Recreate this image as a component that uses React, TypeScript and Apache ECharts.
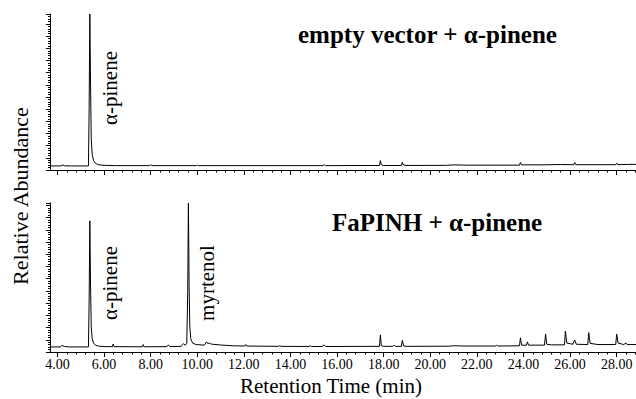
import React, { useEffect, useRef } from "react";
import * as echarts from "echarts";

// Retention time axis (minutes)
const X_MIN = 3.68;
const X_MAX = 28.83;
const xMajorTicks = [4, 6, 8, 10, 12, 14, 16, 18, 20, 22, 24, 26, 28];

// Texts
const topTitle = "empty vector + α-pinene";
const bottomTitle = "FaPINH + α-pinene";
const yTitle = "Relative Abundance";
const xTitle = "Retention Time (min)";
const peakLabelTop = ["α-pinene"];
const peakLabelsBottom = ["α-pinene", "myrtenol"];

// Chromatogram: empty vector + α-pinene  [time (min), relative abundance %]
const topTrace: [number, number][] = [
  [3.68, 2.6], [4.15, 2.6], [4.22, 3.2], [4.3, 2.7], [4.6, 2.6], [5.33, 2.6],
  [5.36, 40], [5.39, 100], [5.42, 55], [5.45, 20], [5.49, 10], [5.55, 6],
  [5.63, 4.3], [5.75, 3.4], [6.0, 3.0], [6.5, 2.8], [7.96, 2.8], [8.0, 3.4],
  [8.05, 2.8], [9.96, 2.8], [10.0, 3.2], [10.05, 2.8], [12.0, 2.8], [13.5, 2.8],
  [15.41, 2.8], [15.45, 3.5], [15.5, 2.8], [17.82, 2.9], [17.86, 6.0], [17.9, 3.3],
  [18.0, 2.9], [18.76, 2.9], [18.8, 4.9], [18.85, 3.2], [19.0, 2.9], [20.7, 3.0],
  [21.0, 3.3], [21.6, 3.1], [23.83, 3.1], [23.87, 4.8], [23.92, 3.3], [24.8, 3.3],
  [25.6, 3.5], [26.16, 3.4], [26.2, 4.8], [26.25, 3.4], [27.96, 3.4], [28.0, 4.4],
  [28.05, 3.4], [28.5, 3.6], [28.83, 3.6],
];

// Chromatogram: FaPINH + α-pinene
const bottomTrace: [number, number][] = [
  [3.68, 3.4], [4.12, 3.4], [4.2, 4.4], [4.3, 3.7], [4.5, 3.4], [5.33, 3.4],
  [5.36, 35], [5.39, 88], [5.42, 45], [5.45, 17], [5.49, 9], [5.55, 6],
  [5.63, 4.6], [5.75, 4.0], [6.0, 3.6], [6.36, 3.6], [6.39, 5.4], [6.43, 3.6],
  [7.64, 3.5], [7.68, 5.0], [7.72, 3.5], [8.7, 3.6], [8.76, 4.8], [8.82, 3.7],
  [9.3, 3.8], [9.42, 5.6], [9.48, 4.5], [9.55, 5.5], [9.59, 40], [9.62, 100],
  [9.65, 45], [9.68, 17], [9.72, 9], [9.8, 6], [9.95, 5], [10.3, 4.6],
  [10.4, 6.8], [10.45, 5.6], [10.52, 6.0], [10.6, 5.3], [11.0, 4.7], [11.5, 4.2],
  [12.04, 4.0], [12.08, 5.0], [12.13, 4.0], [13.5, 3.8], [13.54, 4.3], [13.6, 3.8],
  [14.8, 3.7], [14.85, 4.3], [14.9, 3.7], [15.38, 3.7], [15.43, 4.8], [15.5, 3.7],
  [17.82, 3.8], [17.86, 11.5], [17.9, 4.2], [18.0, 3.8], [18.4, 3.8], [18.45, 4.6],
  [18.5, 3.8], [18.76, 3.8], [18.8, 7.8], [18.86, 4.0], [19.0, 3.8], [20.8, 3.9],
  [21.0, 4.2], [21.5, 4.0], [22.8, 4.0], [22.85, 4.5], [22.9, 4.0], [23.5, 4.1],
  [23.83, 4.2], [23.87, 9.5], [23.92, 4.6], [24.13, 4.5], [24.17, 6.8], [24.22, 4.6],
  [24.9, 4.6], [24.95, 12], [25.0, 5.2], [25.2, 4.8], [25.76, 4.8], [25.8, 14],
  [25.86, 6], [26.12, 5.2], [26.2, 8], [26.27, 5.2], [26.76, 5.0], [26.8, 13],
  [26.86, 5.8], [27.2, 5.0], [27.96, 5.0], [28.0, 12], [28.06, 6], [28.3, 5.0],
  [28.4, 6.0], [28.45, 5.0], [28.83, 5.0],
];

const FONT = "Liberation Serif";

function minorTickValues(): number[] {
  const out: number[] = [];
  for (let i = -1; i < 80; i++) {
    const v = Math.round((4 + i * 0.4) * 100) / 100;
    if (v < X_MIN || v > X_MAX) continue;
    if (Math.abs(v / 2 - Math.round(v / 2)) < 1e-6) continue;
    out.push(v);
  }
  return out;
}

export default function App() {
  const ref = useRef<HTMLDivElement>(null);

  useEffect(() => {
    const chart = echarts.init(ref.current!, null, { renderer: "svg" });
    const black = { color: "#000", width: 1 };
    const minors = minorTickValues();

    const majorX = (gridIndex: number, labels: boolean) => ({
      type: "value",
      gridIndex,
      min: X_MIN,
      max: X_MAX,
      position: "bottom",
      axisLine: { show: true, onZero: false, lineStyle: black },
      axisTick: { show: true, customValues: xMajorTicks, length: 5, lineStyle: black },
      axisLabel: {
        show: labels,
        customValues: xMajorTicks,
        formatter: (v: number) => v.toFixed(2),
        fontFamily: FONT,
        fontSize: 14,
        color: "#000",
        margin: 5,
        hideOverlap: false,
      },
      splitLine: { show: false },
    });
    const minorX = (gridIndex: number) => ({
      type: "value",
      gridIndex,
      min: X_MIN,
      max: X_MAX,
      position: "bottom",
      axisLine: { show: false, onZero: false },
      axisTick: { show: true, customValues: minors, length: 2.5, lineStyle: black },
      axisLabel: { show: false },
      splitLine: { show: false },
    });
    const yAx = (gridIndex: number, interval: number) => ({
      type: "value",
      gridIndex,
      min: 0,
      max: 100,
      interval,
      axisLine: { show: true, lineStyle: black },
      axisTick: { show: true, length: 4, lineStyle: black },
      minorTick: { show: true, splitNumber: 5, length: 2, lineStyle: black },
      axisLabel: { show: false },
      splitLine: { show: false },
      minorSplitLine: { show: false },
    });

    const txt = (text: string, x: number, y: number, size: number, bold = false, rot = 0, align = "center") => ({
      type: "text",
      x,
      y,
      rotation: rot,
      style: {
        text,
        fontFamily: FONT,
        fontSize: size,
        fontWeight: bold ? "bold" : "normal",
        fill: "#000",
        align,
        verticalAlign: "middle",
      },
    });

    chart.setOption({
      animation: false,
      backgroundColor: "#fff",
      grid: [
        { left: 50, top: 14, width: 586, height: 156 },
        { left: 50, top: 203, width: 586, height: 149 },
      ],
      xAxis: [majorX(0, false), minorX(0), majorX(1, true), minorX(1)],
      yAxis: [yAx(0, 7.8), yAx(1, 8.2)],
      series: [
        {
          type: "line",
          xAxisIndex: 0,
          yAxisIndex: 0,
          data: topTrace,
          showSymbol: false,
          lineStyle: { color: "#000", width: 1 },
          silent: true,
        },
        {
          type: "line",
          xAxisIndex: 2,
          yAxisIndex: 1,
          data: bottomTrace,
          showSymbol: false,
          lineStyle: { color: "#000", width: 1 },
          silent: true,
        },
      ],
      graphic: [
        txt(topTitle, 298, 34, 25, true, 0, "left"),
        txt(bottomTitle, 332, 222, 25, true, 0, "left"),
        txt(peakLabelTop[0], 110, 88, 21, false, Math.PI / 2),
        txt(peakLabelsBottom[0], 110, 283, 21, false, Math.PI / 2),
        txt(peakLabelsBottom[1], 207, 283, 21, false, Math.PI / 2),
        txt(yTitle, 20, 196, 22, false, Math.PI / 2),
        txt(xTitle, 331, 386, 21, false, 0),
      ],
    } as any);

    return () => chart.dispose();
  }, []);

  return (
    <div
      ref={ref}
      style={{ position: "fixed", left: 0, top: 0, width: 636, height: 399, background: "#fff" }}
    />
  );
}
